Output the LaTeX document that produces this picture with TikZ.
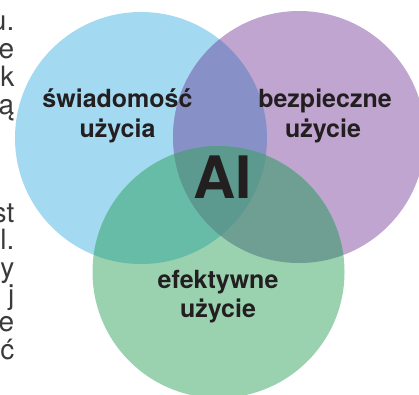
\documentclass[tikz,border=0pt]{standalone}
\usepackage{fontspec}
\setmainfont{TeX Gyre Heros}
\definecolor{cblue}{HTML}{A3DAF1}
\definecolor{cpurple}{HTML}{BFA5CF}
\definecolor{cgreen}{HTML}{9AD1AF}
\definecolor{cbp}{HTML}{8791C8}
\definecolor{cbg}{HTML}{67BCA8}
\definecolor{cpg}{HTML}{6F9E92}
\definecolor{call}{HTML}{5C998F}
\definecolor{ink}{HTML}{231F20}
\definecolor{gtext}{HTML}{3A3A3A}
\tikzset{
  lbl/.style={font=\fontsize{25}{29}\selectfont\bfseries, text=ink, inner sep=0pt, anchor=base},
  frag/.style={font=\fontsize{28}{27}\selectfont, text=gtext, inner sep=0pt, anchor=base east},
}
\begin{document}
\begin{tikzpicture}[x=1pt,y=-1pt]
\useasboundingbox (0,0) rectangle (419,394);
\clip (0,0) rectangle (419,394);
\coordinate (B) at (141,138);
\coordinate (P) at (299,137);
\coordinate (G) at (218.5,272);
% circles
\fill[cblue] (B) circle[radius=126pt];
\fill[cpurple] (P) circle[radius=126pt];
\fill[cgreen] (G) circle[radius=126pt];
\begin{scope}
  \clip (B) circle[radius=126pt];
  \fill[cbp] (P) circle[radius=126pt];
  \fill[cbg] (G) circle[radius=126pt];
\end{scope}
\begin{scope}
  \clip (P) circle[radius=126pt];
  \fill[cpg] (G) circle[radius=126pt];
\end{scope}
\begin{scope}
  \clip (B) circle[radius=126pt];
  \clip (P) circle[radius=126pt];
  \fill[call] (G) circle[radius=126pt];
\end{scope}
% labels
\node[lbl] (sw1) at (117.5,107) {świadomość};
\node[lbl] (sw2) at (117.5,137) {użycia};
\node[lbl] (bz1) at (325,107) {bezpieczne};
\node[lbl] (bz2) at (323,137) {użycie};
\node[lbl] (ef1) at (218,288) {efektywne};
\node[lbl] (ef2) at (218,317) {użycie};
\node[lbl, font=\fontsize{58.5}{60}\selectfont\bfseries] (ai) at (222.5,198) {AI};
% cut-off text at the left edge
\node[frag] (f1) at (14.5,30) {u.};
\node[frag] (f2) at (14.5,58) {e};
\node[frag] (f3) at (14.5,86) {k};
\node[frag] (f4) at (14.5,114) {ą};
\node[frag] (f5) at (14.5,222) {st};
\node[frag] (f6) at (14.5,249.5) {l.};
\node[frag] (f7) at (14.5,277) {ey};
\node[frag] (f8) at (14.5,304) {j};
\node[frag] (f9) at (14.5,331.5) {e};
\node[frag] (f10) at (14.5,359) {ć};
\end{tikzpicture}
\end{document}
